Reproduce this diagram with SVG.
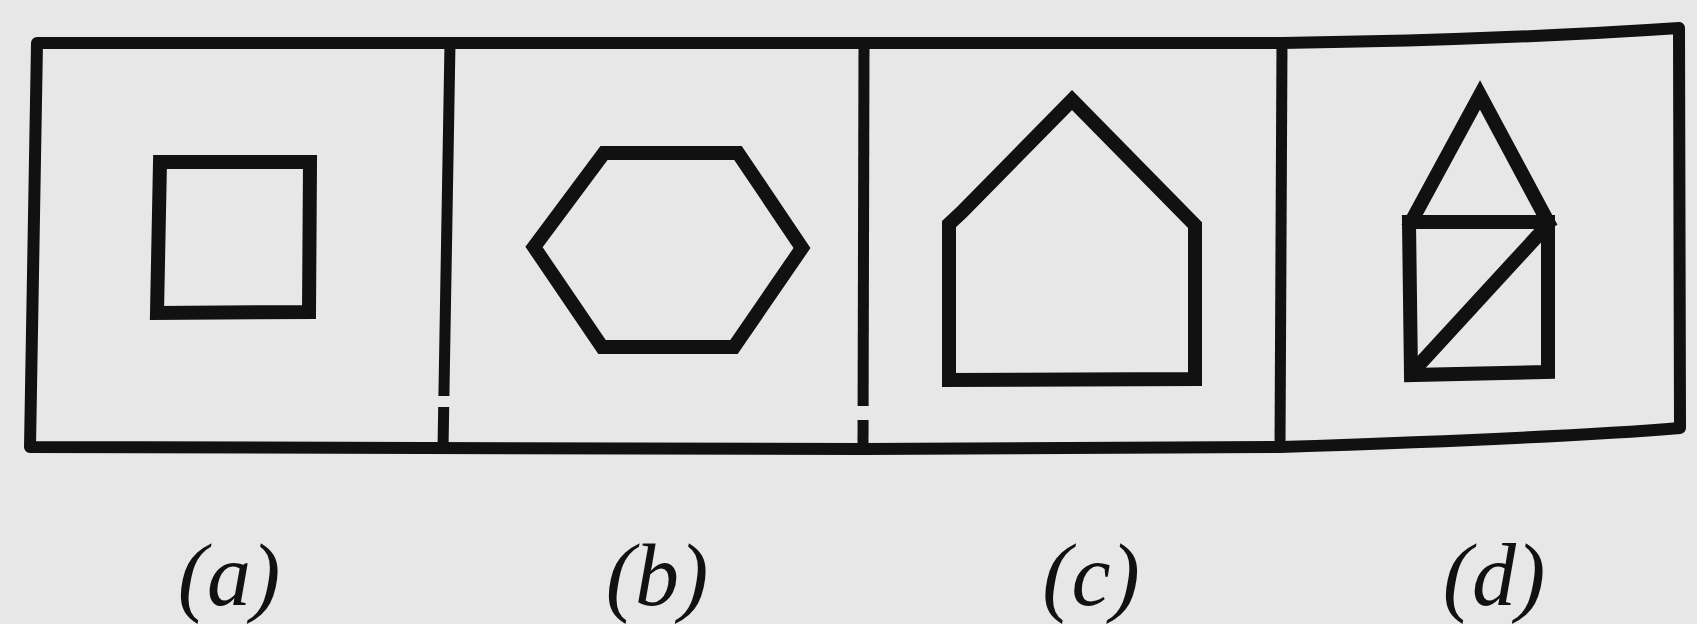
<svg xmlns="http://www.w3.org/2000/svg" width="1697" height="624" viewBox="0 0 1697 624">
  <style>
    .frame { fill: none; stroke: #111; stroke-width: 12; stroke-linejoin: round; stroke-linecap: square; }
    .div { fill: none; stroke: #111; stroke-width: 11; }
    .shape { fill: none; stroke: #111; stroke-width: 14; stroke-linejoin: miter; stroke-linecap: square; }
    .gap { stroke: #e7e7e7; }
    .lbl { font-family: "Liberation Serif", "Times New Roman", serif; font-style: italic; font-size: 88px; fill: #111; text-anchor: middle; }
  </style>
  <rect width="1697" height="624" fill="#e7e7e7"/>
  <g id="frame">
    <path class="frame" d="M37,43 L1282,43 Q1500,40 1679,28 L1680,428 Q1560,438 1280,447 L863,449 L30,447 Z"/>
  </g>
  <g id="dividers">
    <line class="div" x1="450" y1="43" x2="443" y2="448"/>
    <line class="div" x1="864" y1="43" x2="863" y2="449"/>
    <line class="div" x1="1282" y1="43" x2="1280" y2="447"/>
    <line class="gap" x1="444" y1="396" x2="444" y2="407" stroke-width="16"/>
    <line class="gap" x1="863" y1="406" x2="863" y2="420" stroke-width="16"/>
  </g>
  <g id="a">
    <polygon class="shape" points="160,162 310,162 309,312 157,313"/>
    <text class="lbl" x="229" y="605">(a)</text>
  </g>
  <g id="b">
    <polygon class="shape" points="534,247 604,153 738,153 802,248 734,347 602,347"/>
    <text class="lbl" x="657" y="605">(b)</text>
  </g>
  <g id="c">
    <polygon class="shape" points="1072,100 1195,225 1195,379 949,380 949,224 962,212"/>
    <text class="lbl" x="1091" y="605">(c)</text>
  </g>
  <g id="d">
    <path class="shape" d="M1411,222 L1480,95 L1548,222" stroke-linecap="butt"/>
    <polygon class="shape" points="1409,222 1548,222 1548,372 1411,375"/>
    <line class="shape" x1="1543" y1="230" x2="1416" y2="368" stroke-linecap="butt"/>
    <text class="lbl" x="1494" y="605">(d)</text>
  </g>
</svg>
